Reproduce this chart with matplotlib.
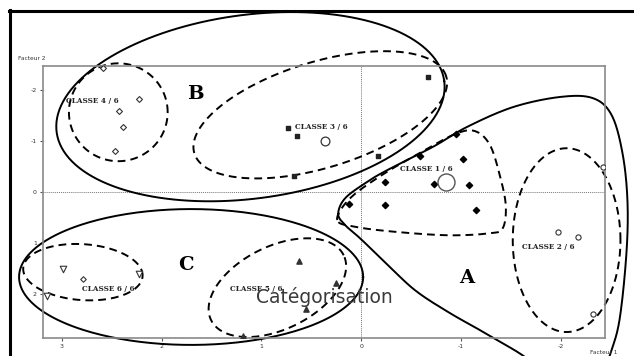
import numpy as np
import matplotlib
matplotlib.use("Agg")
import matplotlib.pyplot as plt
from matplotlib.lines import Line2D

# ---------------- data (factor 1 = x, factor 2 = y) ----------------
c4_x = [2.59, 2.23, 2.43, 2.39, 2.47]
c4_y = [-2.44, -1.83, -1.59, -1.28, -0.81]

c3_x = [-0.67, 0.73, 0.64, -0.17, 0.67]
c3_y = [-2.26, -1.26, -1.10, -0.71, -0.31]
c3_center = [0.36, -1.00]

c1_x = [-0.95, -0.59, -1.02, -0.24, -0.73, -1.08, 0.12, -0.24, -1.15]
c1_y = [-1.14, -0.71, -0.65, -0.20, -0.16, -0.14, 0.24, 0.25, 0.35]
c1_center = [-0.85, -0.20]

c2_x = [-1.97, -2.17, -2.32, -2.42]
c2_y = [0.79, 0.89, 2.40, -0.49]

c5_x = [0.62, 0.25, 0.55, 1.18]
c5_y = [1.36, 1.79, 2.30, 2.83]

c6_x = [2.99, 2.23, 3.15]
c6_y = [1.52, 1.61, 2.05]
c6_center = [2.79, 1.71]

class_labels = ["CLASSE 4 / 6", "CLASSE 3 / 6", "CLASSE 1 / 6",
                "CLASSE 2 / 6", "CLASSE 5 / 6", "CLASSE 6 / 6"]
class_label_x = [2.96, 0.66, -0.39, -1.61, 1.31, 2.80]
class_label_y = [-1.79, -1.28, -0.45, 1.08, 1.91, 1.91]

group_labels = ["A", "B", "C"]
group_label_x = [-1.06, 1.66, 1.76]
group_label_y = [1.69, -1.93, 1.44]

x_ticks = [3, 2, 1, 0, -1, -2]
y_ticks = [-2, -1, 0, 1, 2]

# ellipses: centre x, centre y, semi-axis a, semi-axis b (x units), angle (deg)
dashed_ellipses = [
    (2.435, -1.57, 0.495, 0.49, 0),     # classe 4/6
    (0.41, -1.52, 1.32, 0.53, 17),      # classe 3/6
    (2.79, 1.575, 0.60, 0.28, -4),      # classe 6/6
    (0.84, 1.88, 0.74, 0.415, 26),      # classe 5/6
    (-2.06, 0.945, 0.54, 0.92, 0),      # classe 2/6
]
solid_ellipses = [
    (1.11, -1.68, 1.96, 0.92, 7.5),     # groupe B
    (1.705, 1.67, 1.725, 0.68, 0),      # groupe C
]
# classe 1/6 outline (closed curve nodes)
c1_outline_x = [0.24, 0.11, -0.22, -0.59, -0.94, -1.14, -1.29, -1.39, -1.45,
                -1.42, -1.29, -0.89, -0.39, 0.04]
c1_outline_y = [0.55, 0.12, -0.35, -0.77, -1.14, -1.20, -0.93, -0.33, 0.26,
                0.71, 0.81, 0.85, 0.79, 0.69]
# groupe A outline (closed curve nodes, partly outside the figure)
gA_outline_x = [0.23, 0.16, -0.06, -0.26, -0.72, -1.06, -1.52, -1.99, -2.32,
                -2.51, -2.62, -2.67, -2.66, -2.59, -2.49, -2.34, -1.99, -1.74,
                -1.29, -0.89, -0.54, -0.24, 0.01, 0.16]
gA_outline_y = [0.43, 0.12, -0.20, -0.43, -0.89, -1.28, -1.67, -1.87, -1.85,
                -1.52, -0.77, 0.16, 1.20, 2.52, 3.23, 4.09, 4.29, 3.41,
                2.83, 2.38, 1.93, 1.38, 0.91, 0.65]

YR = 99.8 / 50.8  # pixel scale ratio x/y


def ellipse_pts(cx, cy, a, b, ang):
    t = np.linspace(0, 2 * np.pi, 300)
    th = np.radians(ang)
    ux = a * np.cos(t) * np.cos(th) - b * np.sin(t) * np.sin(th)
    uy = a * np.cos(t) * np.sin(th) + b * np.sin(t) * np.cos(th)
    return cx - ux, cy - uy * YR


def smooth_closed(xs, ys, n=25):
    P = np.column_stack([xs, ys])
    N = len(P)
    segs = []
    t = np.linspace(0, 1, n, endpoint=False)[:, None]
    for i in range(N):
        p0, p1, p2, p3 = P[i - 1], P[i], P[(i + 1) % N], P[(i + 2) % N]
        seg = 0.5 * ((2 * p1) + (-p0 + p2) * t + (2 * p0 - 5 * p1 + 4 * p2 - p3) * t ** 2
                     + (-p0 + 3 * p1 - 3 * p2 + p3) * t ** 3)
        segs.append(seg)
    out = np.vstack(segs + [segs[0][:1]])
    return out[:, 0], out[:, 1]


fig = plt.figure(figsize=(6.34, 3.56), dpi=100)
fig.patch.set_facecolor("white")
ax = fig.add_axes([43 / 634, 18 / 356, 562 / 634, 272 / 356])
ax.set_xlim(3.19, -2.445)
ax.set_ylim(2.87, -2.48)
for s in ax.spines.values():
    s.set_color("#8a8a8a")
    s.set_linewidth(1.2)

ax.set_xticks(x_ticks)
ax.set_xticklabels([str(v) for v in x_ticks])
ax.set_yticks(y_ticks)
ax.set_yticklabels([str(v) for v in y_ticks])
ax.tick_params(labelsize=4.5, length=2.5, width=0.8, color="#555555",
               labelcolor="#333333", pad=2)

ax.axhline(0, color="#777777", lw=0.7, ls=(0, (1, 1)))
ax.axvline(0, color="#777777", lw=0.7, ls=(0, (1, 1)))

dash = (0, (4, 2.6))
for (cx, cy, a, b, ang) in dashed_ellipses:
    ex, ey = ellipse_pts(cx, cy, a, b, ang)
    ax.plot(ex, ey, color="black", lw=1.4, ls=dash, clip_on=False)
for (cx, cy, a, b, ang) in solid_ellipses:
    ex, ey = ellipse_pts(cx, cy, a, b, ang)
    ax.plot(ex, ey, color="black", lw=1.4, clip_on=False)

ox, oy = smooth_closed(c1_outline_x, c1_outline_y)
ax.plot(ox, oy, color="black", lw=1.4, ls=dash, clip_on=False)
ox, oy = smooth_closed(gA_outline_x, gA_outline_y)
ax.plot(ox, oy, color="black", lw=1.4, clip_on=False)

# points
ax.scatter(c4_x, c4_y, marker="D", s=9, facecolor="white", edgecolor="#333333", lw=0.8, zorder=5)
ax.scatter(c3_x, c3_y, marker="s", s=12, color="#222222", zorder=5)
ax.scatter([c3_center[0]], [c3_center[1]], marker="o", s=40, facecolor="white",
           edgecolor="#333333", lw=0.9, zorder=5)
ax.scatter(c1_x, c1_y, marker="D", s=10, color="black", zorder=5)
ax.scatter([c1_center[0]], [c1_center[1]], marker="o", s=150, facecolor="white",
           edgecolor="#555555", lw=1.0, zorder=5)
ax.scatter(c2_x, c2_y, marker="o", s=14, facecolor="white", edgecolor="#333333", lw=0.8, zorder=5)
ax.scatter(c5_x, c5_y, marker="^", s=14, color="#333333", zorder=5)
ax.scatter(c6_x, c6_y, marker="v", s=22, facecolor="white", edgecolor="#333333", lw=0.8, zorder=5)
ax.scatter([c6_center[0]], [c6_center[1]], marker="D", s=8, facecolor="white",
           edgecolor="#333333", lw=0.8, zorder=5)

for txt, x, y in zip(class_labels, class_label_x, class_label_y):
    ax.text(x, y, txt, fontsize=5.2, family="DejaVu Serif", fontweight="bold",
            ha="left", va="center", color="#222222", zorder=6)
for txt, x, y in zip(group_labels, group_label_x, group_label_y):
    ax.text(x, y, txt, fontsize=14, family="DejaVu Serif", fontweight="bold",
            ha="center", va="center", color="black", zorder=6)

fig.text(18 / 634, 1 - 58 / 356, "Facteur 2", fontsize=4.2, color="#333333",
         ha="left", va="center")
fig.text(590 / 634, 1 - 352 / 356, "Facteur 1", fontsize=4.2, color="#333333",
         ha="left", va="center")

# thick outer frame (top and left)
fig.add_artist(Line2D([9.5 / 634, 9.5 / 634], [0, 1 - 10 / 356], color="black",
                      lw=2.2, transform=fig.transFigure))
fig.add_artist(Line2D([8.7 / 634, 1], [1 - 11 / 356, 1 - 11 / 356], color="black",
                      lw=2.2, transform=fig.transFigure))

fig.text(324 / 634, 1 - 297 / 356, "Catégorisation", fontsize=13.5,
         color="#3a3a3a", ha="center", va="center", zorder=10)

fig.savefig("out.png", dpi=100)
